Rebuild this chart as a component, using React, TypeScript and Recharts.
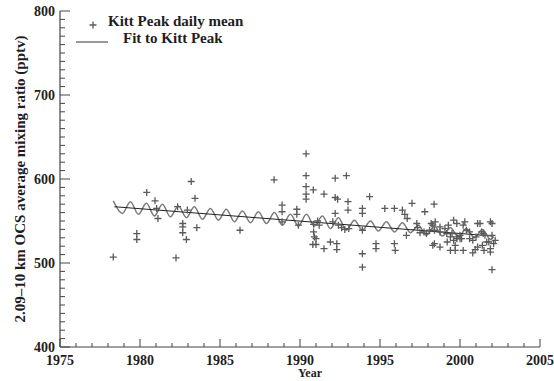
import { ComposedChart, Scatter, Line, XAxis, YAxis } from 'recharts';

// Kitt Peak daily means (year, pptv)
const dailyYear = [
  1978.33, 1979.8, 1979.8, 1980.42, 1980.94, 1981.04, 1981.12, 1982.25, 1982.35, 1982.67,
  1982.67, 1982.67, 1982.9, 1982.96, 1983.2, 1983.44, 1983.55, 1986.25, 1988.38, 1988.88,
  1988.88, 1988.88, 1989.8, 1989.8, 1989.9, 1990.38, 1990.38, 1990.38, 1990.38, 1990.38,
  1990.83, 1990.85, 1990.85, 1990.9, 1990.8, 1991.0, 1991.0, 1991.1, 1991.5, 1991.5,
  1991.2, 1991.9, 1992.05, 1992.2, 1992.2, 1992.35, 1992.2, 1992.3, 1992.3, 1992.4,
  1992.6, 1992.8, 1992.9, 1993.0, 1993.0, 1993.05, 1993.9, 1993.9, 1993.9, 1993.9,
  1993.9, 1994.35, 1994.75, 1994.75, 1995.3, 1995.9, 1995.9, 1995.95, 1996.4, 1996.55,
  1996.7, 1996.65, 1997.0, 1997.3, 1997.35, 1997.5, 1997.8, 1997.75, 1997.9, 1998.38,
  1998.1, 1998.2, 1998.3, 1998.45, 1998.4, 1998.4, 1998.3, 1998.75, 1998.75, 1998.75,
  1999.06, 1999.17, 1999.2, 1999.27, 1999.4, 1999.4, 1999.5, 1999.6, 1999.6, 1999.7,
  1999.7, 1999.8, 1999.8, 1999.8, 2000.0, 2000.0, 2000.1, 2000.2, 2000.2, 2000.3,
  2000.4, 2000.6, 2000.6, 2000.8, 2000.8, 2000.95, 2001.0, 2001.1, 2001.1, 2001.25,
  2001.35, 2001.4, 2001.45, 2001.5, 2001.56, 2001.67, 2001.8, 2001.9, 2001.9, 2001.9,
  2002.0, 2002.0, 2002.1, 2002.2, 2002.0,
];
const dailyMean = [
  507, 535, 528, 584, 574, 565, 553, 506, 567, 547,
  543, 536, 528, 563, 597, 577, 542, 539, 599, 569,
  561, 549, 564, 558, 545, 630, 604, 591, 582, 576,
  587, 546, 537, 531, 522, 522, 529, 550, 582, 517,
  545, 525, 549, 601, 578, 576, 559, 523, 516, 545,
  542, 540, 604, 573, 563, 541, 565, 559, 539, 511,
  495, 579, 523, 517, 565, 565, 523, 515, 563, 558,
  553, 533, 571, 547, 542, 536, 561, 537, 535, 570,
  539, 547, 545, 549, 539, 523, 521, 543, 537, 519,
  541, 535, 525, 545, 531, 515, 535, 551, 527, 521,
  515, 547, 531, 529, 529, 533, 529, 545, 515, 549,
  539, 537, 529, 527, 512, 516, 531, 547, 519, 547,
  537, 521, 535, 515, 533, 525, 525, 549, 517, 513,
  533, 547, 523, 527, 492,
];

// fitted curve, peaks and troughs of the seasonal cycle
const fitYear = [
  1978.33, 1978.9, 1979.4, 1979.9, 1980.4, 1980.9, 1981.4, 1981.9, 1982.4, 1982.9,
  1983.4, 1983.9, 1984.4, 1984.9, 1985.4, 1985.9, 1986.4, 1986.9, 1987.4, 1987.9,
  1988.4, 1988.9, 1989.4, 1989.9, 1990.4, 1990.9, 1991.4, 1991.9, 1992.4, 1992.9,
  1993.4, 1993.9, 1994.4, 1994.9, 1995.4, 1995.9, 1996.4, 1996.9, 1997.4, 1997.9,
  1998.4, 1998.9, 1999.4, 1999.9, 2000.4, 2000.9, 2001.4, 2001.9, 2002.1,
];
const fitValue = [
  574, 559, 573, 558, 571, 556, 570, 555, 568, 554,
  567, 552, 565, 551, 564, 549, 562, 548, 561, 547,
  560, 545, 558, 544, 558, 544, 556, 541, 554, 539,
  551, 539, 550, 538, 549, 537, 548, 536, 545, 533,
  544, 532, 542, 531, 541, 530, 540, 528, 531,
];

// long-term trend
const trendYear = [1978.4, 2002.1];
const trendValue = [567, 532];

const yearTicks = Array.from({ length: 31 }, (_, i) => 1975 + i);
const mixTicks = Array.from({ length: 41 }, (_, i) => 400 + i * 10);

const dailyData = dailyYear.map((year, i) => ({ year, v: dailyMean[i] }));
const fitData = fitYear.map((year, i) => ({ year, v: fitValue[i] }));
const trendData = trendYear.map((year, i) => ({ year, v: trendValue[i] }));

const FONT = '"Liberation Serif", "DejaVu Serif", serif';
const AXIS = '#444';
const INK = '#1e1e1e';
const CROSS = '#5a5a5a';

const Cross = (props: any) => {
  const { cx, cy } = props;
  if (cx == null || cy == null) return null;
  return (
    <path d={`M${cx - 3.5},${cy}h7M${cx},${cy - 3.5}v7`} stroke={CROSS} strokeWidth={1.3} fill="none" />
  );
};

const BottomTick = ({ x, y, payload }: any) => {
  const major = payload.value % 5 === 0;
  return (
    <g>
      <line x1={x} x2={x} y1={y} y2={y - (major ? 8 : 4)} stroke={AXIS} />
      {major && (
        <text x={x} y={y + 18} textAnchor="middle" fontFamily={FONT} fontWeight="bold" fontSize={14} fill={INK}>
          {payload.value}
        </text>
      )}
    </g>
  );
};

const TopTick = ({ x, y, payload }: any) => {
  const major = payload.value % 5 === 0;
  return <line x1={x} x2={x} y1={y} y2={y + (major ? 8 : 4)} stroke={AXIS} />;
};

const LeftTick = ({ x, y, payload }: any) => {
  const major = payload.value % 100 === 0;
  return (
    <g>
      <line x1={x} x2={x + (major ? 10 : 5)} y1={y} y2={y} stroke={AXIS} />
      {major && (
        <text x={x - 5} y={y + 4.5} textAnchor="end" fontFamily={FONT} fontWeight="bold" fontSize={14} fill={INK}>
          {payload.value}
        </text>
      )}
    </g>
  );
};

const RightTick = ({ x, y, payload }: any) => {
  const major = payload.value % 100 === 0;
  return <line x1={x} x2={x - (major ? 10 : 5)} y1={y} y2={y} stroke={AXIS} />;
};

function Labels() {
  return (
    <g fontFamily={FONT} fontWeight="bold" fill={INK}>
      <path d="M89.5,25h7M93,21.5v7" stroke={CROSS} strokeWidth={1.3} />
      <text x={108} y={26} fontSize={15}>Kitt Peak daily mean</text>
      <line x1={76} x2={108} y1={42} y2={42} stroke="#333" />
      <text x={123} y={43} fontSize={15}>Fit to Kitt Peak</text>
      <text x={310} y={377} fontSize={12} textAnchor="middle">Year</text>
      <text x={24.5} y={179} fontSize={15} textAnchor="middle" transform="rotate(-90, 24.5, 179)">
        2.09–10 km OCS average mixing ratio (pptv)
      </text>
    </g>
  );
}

export default function App() {
  return (
    <div style={{ position: 'absolute', left: 0, top: 0, width: 554, height: 381, background: '#fff' }}>
      <ComposedChart width={554} height={381} margin={{ top: 11, right: 14, bottom: 0, left: 0 }}>
        <XAxis
          xAxisId="b"
          dataKey="year"
          type="number"
          domain={[1975, 2005]}
          ticks={yearTicks}
          interval={0}
          allowDataOverflow
          height={34}
          tickSize={0}
          tickMargin={0}
          tickLine={false}
          stroke={AXIS}
          strokeWidth={1.2}
          tick={(p: any) => <BottomTick {...p} />}
        />
        <XAxis
          xAxisId="t"
          orientation="top"
          dataKey="year"
          type="number"
          domain={[1975, 2005]}
          ticks={yearTicks}
          interval={0}
          allowDataOverflow
          height={0}
          tickSize={0}
          tickMargin={0}
          tickLine={false}
          stroke={AXIS}
          strokeWidth={1.2}
          tick={(p: any) => <TopTick {...p} />}
        />
        <YAxis
          yAxisId="l"
          type="number"
          domain={[400, 800]}
          ticks={mixTicks}
          interval={0}
          allowDataOverflow
          width={60}
          tickSize={0}
          tickMargin={0}
          tickLine={false}
          stroke={AXIS}
          strokeWidth={1.2}
          tick={(p: any) => <LeftTick {...p} />}
        />
        <YAxis
          yAxisId="r"
          orientation="right"
          type="number"
          domain={[400, 800]}
          ticks={mixTicks}
          interval={0}
          allowDataOverflow
          width={0}
          tickSize={0}
          tickMargin={0}
          tickLine={false}
          stroke={AXIS}
          strokeWidth={1.2}
          tick={(p: any) => <RightTick {...p} />}
        />
        <Scatter
          data={dailyData}
          dataKey="v"
          xAxisId="b"
          yAxisId="l"
          shape={Cross}
          isAnimationActive={false}
        />
        <Line
          data={fitData}
          dataKey="v"
          xAxisId="b"
          yAxisId="l"
          type="monotone"
          stroke="#7a7a7a"
          strokeWidth={1.5}
          dot={false}
          isAnimationActive={false}
        />
        <Line
          data={trendData}
          dataKey="v"
          xAxisId="b"
          yAxisId="l"
          type="linear"
          stroke="#222"
          strokeWidth={1}
          dot={false}
          isAnimationActive={false}
        />
        <Labels />
      </ComposedChart>
    </div>
  );
}
